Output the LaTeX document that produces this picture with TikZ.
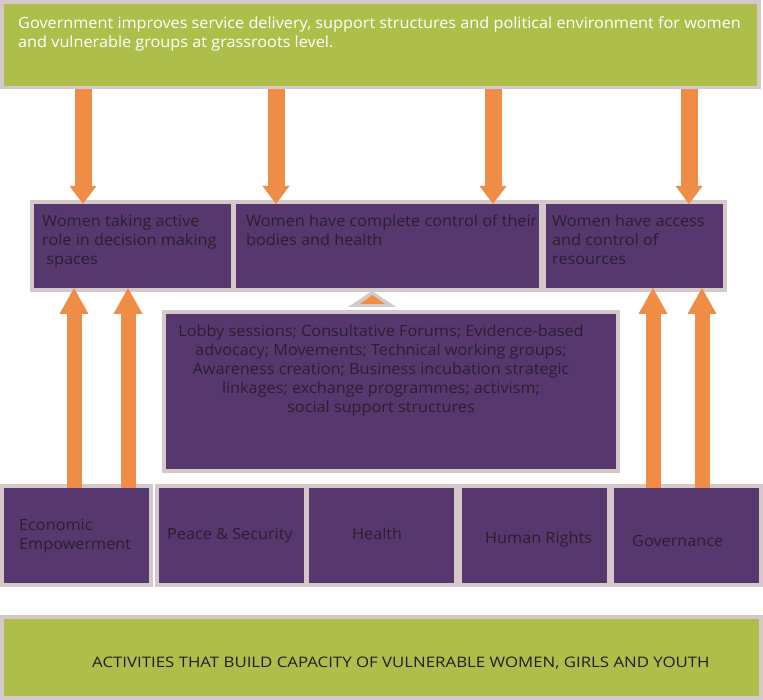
\documentclass[tikz,border=0pt]{standalone}
\usepackage{fontspec}
\setmainfont{Open Sans}[FakeStretch=1.055]
\newfontfamily\widefont{Open Sans}[FakeStretch=1.16]
\usetikzlibrary{arrows.meta}
\definecolor{leaf}{HTML}{ADBF4A}
\definecolor{framegray}{HTML}{D4C8C8}
\definecolor{plum}{HTML}{56386F}
\definecolor{amber}{HTML}{EF8C45}
\definecolor{ink}{HTML}{2A1F2E}

\begin{document}
\begin{tikzpicture}[x=1pt,y=-1pt,
  blk/.style={anchor=north west, inner sep=0pt, outer sep=0pt},
  framebox/.style={blk, fill=framegray},
  leafbox/.style={blk, fill=leaf},
  plumbox/.style={blk, fill=plum},
  pillar/.style={plumbox, minimum width=145pt, minimum height=95pt},
  % multi-line labels are placed by the baseline of their last line
  txt/.style={inner sep=0pt, anchor=base west, align=left,
    font=\fontsize{15.4}{19}\selectfont, text=ink},
  downarrow/.style={draw=amber, line width=17pt,
    -{Triangle[width=27pt,length=18pt,line width=0pt]}},
  uparrow/.style={draw=amber, line width=15pt,
    -{Triangle[width=29pt,length=26pt,line width=0pt]}},
]
\useasboundingbox (0,0) rectangle (763,700);
\fill[white] (0,0) rectangle (763,700);

% goal banner
\node[framebox, minimum width=761pt, minimum height=89pt] (goalframe) at (0,0) {};
\node[leafbox, minimum width=753pt, minimum height=82pt] (goal) at (4,4) {};
\node[txt, text=white] (goaltext) at (18,48)
  {Government improves service delivery, support structures and political environment for women\\and vulnerable groups at grassroots level.};

% outcomes row
\node[framebox, minimum width=697pt, minimum height=92pt] (outframe) at (30,200) {};
\node[plumbox, minimum width=197pt, minimum height=84pt] (w1) at (34,204) {};
\node[plumbox, minimum width=303pt, minimum height=84pt] (w2) at (236,204) {};
\node[plumbox, minimum width=177pt, minimum height=84pt] (w3) at (546,204) {};
\node[txt] (w1text) at (42,265) {Women taking active\\role in decision making\\\ spaces};
\node[txt] (w2text) at (246,246) {Women have complete control of their\\bodies and health};
\node[txt] (w3text) at (552,265) {Women have access\\and control of\\resources};

% activities box with its marker
\node[framebox, minimum width=458pt, minimum height=163pt] (actframe) at (162,310) {};
\node[plumbox, minimum width=450pt, minimum height=155pt] (act) at (166,314) {};
\node[txt, anchor=base, align=center] (acttext) at (381,413)
  {Lobby sessions; Consultative Forums; Evidence-based\\advocacy; Movements; Technical working groups;\\Awareness creation; Business incubation strategic\\linkages; exchange programmes; activism;\\social support structures};
\fill[framegray] (372,291) -- (396,307) -- (348,307) -- cycle;
\fill[amber] (372.5,295) -- (385,304) -- (360,304) -- cycle;

% thematic pillars
\node[framebox, minimum width=153pt, minimum height=103pt] (econframe) at (0,484) {};
\node[pillar] (econ) at (4,488) {};
\node[framebox, minimum width=608pt, minimum height=103pt] (pillarframe) at (155,484) {};
\node[pillar] (peace) at (159,488) {};
\node[pillar] (health) at (309,488) {};
\node[pillar] (rights) at (462,488) {};
\node[pillar] (gov) at (614,488) {};
\node[txt] (econtext) at (19,549) {Economic\\Empowerment};
\node[txt] (peacetext) at (167,539) {Peace \& Security};
\node[txt] (healthtext) at (352,539) {Health};
\node[txt] (rightstext) at (485,543) {Human Rights};
\node[txt] (govtext) at (632,546) {Governance};

% base banner
\node[framebox, minimum width=763pt, minimum height=85pt] (baseframe) at (0,615) {};
\node[leafbox, minimum width=755pt, minimum height=77pt] (base) at (4,619) {};
\node[txt, font=\widefont\fontsize{14.5}{19}\selectfont, text=ink!90!black] (basetext) at (92,667)
  {ACTIVITIES THAT BUILD CAPACITY OF VULNERABLE WOMEN, GIRLS AND YOUTH};

% downward arrows from the goal
\draw[downarrow] (goalframe.south -| 83,0) -- (w1.north -| 83,0);
\draw[downarrow] (goalframe.south -| 276,0) -- (w2.north -| 276,0);
\draw[downarrow] (goalframe.south -| 493,0) -- (w2.north -| 493,0);
\draw[downarrow] (goalframe.south -| 689,0) -- (w3.north -| 689,0);

% upward arrows from the pillars
\draw[uparrow] (econ.north -| 74,0) -- (w1.south -| 74,0);
\draw[uparrow] (econ.north -| 128,0) -- (w1.south -| 128,0);
\draw[uparrow] (gov.north -| 653,0) -- (w3.south -| 653,0);
\draw[uparrow] (gov.north -| 702,0) -- (w3.south -| 702,0);
\end{tikzpicture}
\end{document}
